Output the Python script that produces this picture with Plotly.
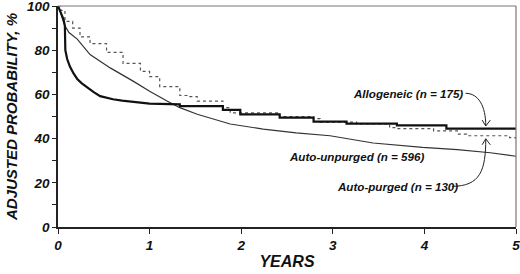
import plotly.graph_objects as go

# Allogeneic (thick solid)
allo_x = [0, 0.03, 0.06, 0.075, 0.08, 0.10, 0.13, 0.17, 0.21, 0.26, 0.32, 0.39, 0.46, 0.53, 0.60, 0.70, 0.82, 1.0, 1.33, 1.33,
          1.8, 1.8, 1.99, 1.99, 2.42, 2.42, 2.79, 2.79, 3.15, 3.15, 3.7, 3.7, 4.24, 4.24, 5.0]
allo_y = [100, 97, 94, 91, 80, 76, 72.6, 69.5, 67, 65, 63, 61, 59.2, 58.4, 57.8, 57.2, 56.6, 55.8, 55.5, 54.7,
          54.7, 53, 53, 51, 51, 49.5, 49.5, 47.7, 47.7, 46.8, 46.8, 46, 46, 44.5, 44.5]

# Auto-purged (dotted)
purged_x = [0, 0.03, 0.076, 0.16, 0.24, 0.35, 0.53, 0.71, 0.9, 1.0, 1.11, 1.33, 1.44, 1.52, 1.8, 1.88, 2.42, 2.79,
            2.86, 3.26, 3.62, 3.71, 4.1, 4.36, 4.46, 4.93, 5.0]
purged_y = [100, 98, 93, 90, 86, 83, 79, 74, 70.4, 68, 63.5, 59.5, 59, 57, 54, 51.6, 50, 49, 47.5, 46.6, 45, 44.5,
            43.5, 42, 41.3, 40.4, 39]

# Auto-unpurged (thin solid)
unpurged_x = [0, 0.03, 0.05, 0.076, 0.12, 0.21, 0.35, 0.57, 0.82, 1.0, 1.19, 1.33, 1.52, 1.88, 2.24, 2.6, 2.97, 3.3,
              3.44, 3.98, 4.36, 4.72, 5.0]
unpurged_y = [100, 97, 94, 91, 88, 85, 78, 72, 66, 61.4, 57, 54, 51, 46.6, 44.3, 42.6, 41.3, 39, 38, 36, 35, 33.6, 32]

y_ticks = [0, 20, 40, 60, 80, 100]
x_ticks = [0, 1, 2, 3, 4, 5]

labels = ["Allogeneic (<i>n</i> = 175)", "Auto-unpurged (<i>n</i> = 596)", "Auto-purged (<i>n</i> = 130)"]

FONT = "Liberation Sans, Arial, sans-serif"

fig = go.Figure()
fig.add_trace(go.Scatter(x=unpurged_x, y=unpurged_y, mode="lines",
                         line=dict(color="#333333", width=1.2), showlegend=False))
fig.add_trace(go.Scatter(x=purged_x, y=purged_y, mode="lines", line_shape="hv",
                         line=dict(color="#555555", width=1.2, dash="dot"), showlegend=False))
fig.add_trace(go.Scatter(x=allo_x, y=allo_y, mode="lines",
                         line=dict(color="#111111", width=2.2), showlegend=False))

tickfont = dict(family=FONT, size=13.5, color="#111111", weight="bold", style="italic")

fig.update_xaxes(range=[0, 5], tickvals=x_ticks, ticks="outside", ticklen=5, tickwidth=1, tickcolor="#222",
                 showline=True, linecolor="#222", linewidth=1.5, showgrid=False, zeroline=False,
                 tickfont=tickfont, automargin=False, ticklabeloverflow="allow",
                 title=dict(text="YEARS", font=dict(family=FONT, size=16, color="#111", weight="bold", style="italic"),
                            standoff=4))
fig.update_yaxes(range=[0, 100], tickvals=y_ticks, ticks="outside", ticklen=4, tickwidth=1, tickcolor="#222",
                 minor=dict(dtick=10, ticks="outside", ticklen=4, tickcolor="#222"),
                 showline=True, linecolor="#222", linewidth=1.5, showgrid=False, zeroline=False,
                 tickfont=tickfont, automargin=False, ticklabeloverflow="allow",
                 title=dict(text="ADJUSTED PROBABILITY, %",
                            font=dict(family=FONT, size=15, color="#111", weight="bold", style="italic"),
                            standoff=6))

# top/right frame
fig.add_shape(type="line", xref="paper", yref="paper", x0=0, x1=1, y0=1, y1=1, line=dict(color="#777", width=1.2))
fig.add_shape(type="line", xref="paper", yref="paper", x0=1, x1=1, y0=0, y1=1, line=dict(color="#777", width=1.2))

annfont = dict(family=FONT, size=11.6, color="#111", weight="bold", style="italic")
fig.add_annotation(x=4.44, y=60.5, text=labels[0], showarrow=False, xanchor="right", yanchor="middle", font=annfont)
fig.add_annotation(x=2.5, y=31.8, text=labels[1], showarrow=False, xanchor="left", yanchor="middle", font=annfont)
fig.add_annotation(x=3.02, y=18.4, text=labels[2], showarrow=False, xanchor="left", yanchor="middle", font=annfont)

# curved connectors
fig.add_shape(type="path", xref="x", yref="y", path="M 4.45,60.5 C 4.59,60.5 4.67,54.7 4.67,45.7",
              line=dict(color="#222", width=1))
fig.add_shape(type="path", xref="x", yref="y", path="M 4.63,48.4 L 4.67,45.7 L 4.72,48.4",
              line=dict(color="#222", width=1))
fig.add_shape(type="path", xref="x", yref="y", path="M 4.30,18.4 C 4.61,18.4 4.67,25.6 4.67,39.9",
              line=dict(color="#222", width=1))
fig.add_shape(type="path", xref="x", yref="y", path="M 4.63,37.2 L 4.67,39.9 L 4.72,37.2",
              line=dict(color="#222", width=1))

fig.update_layout(width=520, height=274, margin=dict(l=58, r=4, t=6, b=47),
                  plot_bgcolor="white", paper_bgcolor="white")

fig.write_html("out.html", config={"displayModeBar": False},
               post_script="document.body.style.margin='0';document.body.style.padding='0';")
